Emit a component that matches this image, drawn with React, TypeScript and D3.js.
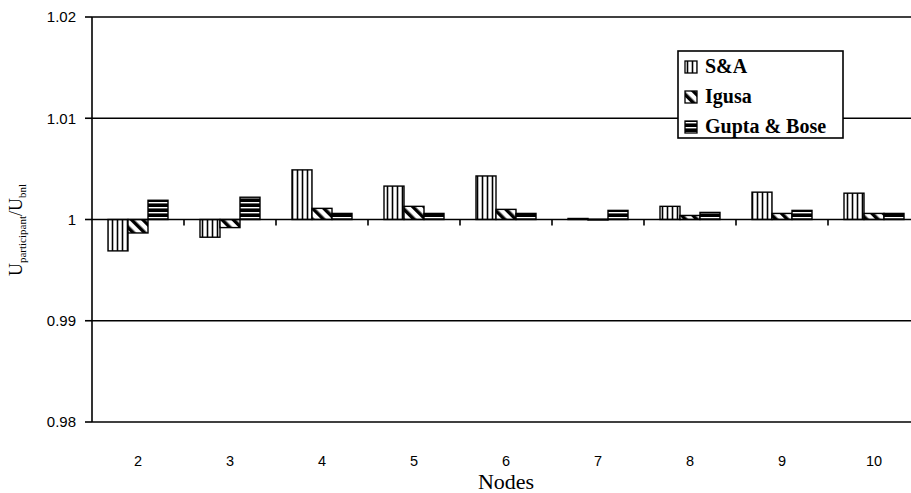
import React from "react";
import * as d3 from "d3";

const categories = ["2", "3", "4", "5", "6", "7", "8", "9", "10"];
const seriesNames = ["S&A", "Igusa", "Gupta & Bose"];
const saValues = [0.9969, 0.99825, 1.0049, 1.0033, 1.0043, 1.0001, 1.0013, 1.0027, 1.0026];
const igusaValues = [0.99867, 0.9992, 1.0011, 1.0013, 1.001, 1.00003, 1.0004, 1.0006, 1.0006];
const guptaValues = [1.0019, 1.0022, 1.0006, 1.0006, 1.0006, 1.0009, 1.0007, 1.0009, 1.0006];
const yTicks = [0.98, 0.99, 1, 1.01, 1.02];
const yTickLabels = ["0.98", "0.99", "1", "1.01", "1.02"];

const W = 911;
const H = 493;
const left = 92;
const top = 17;
const bottom = 422;
const catWidth = 92;

export default function App() {
  const x = d3.scaleBand<string>().domain(categories).range([left, left + catWidth * categories.length]).padding(0);
  const xs = d3.scaleBand<string>().domain(seriesNames).range([16, 76]).padding(0);
  const y = d3.scaleLinear().domain([0.98, 1.02]).range([bottom, top]);
  const base = y(1);
  const series = [saValues, igusaValues, guptaValues];
  const fills = ["url(#pSA)", "url(#pIg)", "url(#pGB)"];
  const sans = "'Liberation Sans', Arial, sans-serif";
  const serif = "'Liberation Serif', 'Times New Roman', serif";
  const plotRight = left + catWidth * categories.length;

  const legendRows = [67, 97, 127];

  return (
    <svg width={W} height={H} style={{ position: "absolute", left: 0, top: 0, background: "#fff" }}>
      <defs>
        <pattern id="pSA" patternUnits="userSpaceOnUse" width={5} height={10}>
          <rect width={5} height={10} fill="#fff" />
          <line x1={2.5} y1={0} x2={2.5} y2={10} stroke="#000" strokeWidth={1.6} />
        </pattern>
        <pattern id="pIg" patternUnits="userSpaceOnUse" width={8} height={8} patternTransform="rotate(-45)">
          <rect width={8} height={8} fill="#fff" />
          <rect x={0} y={0} width={3.5} height={8} fill="#000" />
        </pattern>
        <pattern id="pGB" patternUnits="userSpaceOnUse" width={10} height={5}>
          <rect width={10} height={5} fill="#000" />
          <rect x={0} y={2} width={10} height={1.4} fill="#fff" />
        </pattern>
      </defs>

      {/* gridlines */}
      {yTicks.filter((t) => t !== 1).map((t) => (
        <line key={t} x1={left} x2={plotRight} y1={y(t)} y2={y(t)} stroke="#000" strokeWidth={1.6} />
      ))}

      {/* bars */}
      {categories.map((c, i) => (
        <g key={c}>
          {series.map((s, j) => {
            const v = s[i];
            const yv = y(v);
            const y0 = Math.min(yv, base);
            const h = Math.max(Math.abs(yv - base), 0.8);
            return (
              <rect
                key={j}
                x={(x(c) as number) + (xs(seriesNames[j]) as number)}
                y={y0}
                width={xs.bandwidth()}
                height={h}
                fill={fills[j]}
                stroke="#000"
                strokeWidth={1.4}
              />
            );
          })}
        </g>
      ))}

      {/* x axis at 1 */}
      <line x1={left} x2={plotRight} y1={base} y2={base} stroke="#000" strokeWidth={1.6} />
      {categories.slice(1).map((c) => (
        <line key={c} x1={x(c) as number} x2={x(c) as number} y1={base} y2={base + 6} stroke="#000" strokeWidth={1.6} />
      ))}
      <line x1={plotRight} x2={plotRight} y1={base} y2={base + 6} stroke="#000" strokeWidth={1.6} />

      {/* y axis */}
      <line x1={left} x2={left} y1={top} y2={bottom} stroke="#000" strokeWidth={1.6} />
      {yTicks.map((t, i) => (
        <g key={t}>
          <line x1={left - 7} x2={left} y1={y(t)} y2={y(t)} stroke="#000" strokeWidth={1.6} />
          <text x={76} y={y(t)} dy="0.36em" textAnchor="end" fontFamily={sans} fontSize={15} fill="#000">
            {yTickLabels[i]}
          </text>
        </g>
      ))}

      {/* category labels */}
      {categories.map((c) => (
        <text key={c} x={(x(c) as number) + x.bandwidth() / 2} y={461} dy="0.36em" textAnchor="middle" fontFamily={sans} fontSize={14.5} fill="#000">
          {c}
        </text>
      ))}

      <text x={(left + plotRight) / 2} y={489} textAnchor="middle" fontFamily={serif} fontSize={22} fill="#000">
        Nodes
      </text>

      <text transform="translate(22,230) rotate(-90)" textAnchor="middle" fontFamily={serif} fontSize={18} fill="#000">
        U<tspan fontSize={11} dy={4}>participant</tspan>
        <tspan dy={-4}>/U</tspan>
        <tspan fontSize={11} dy={4}>bnl</tspan>
      </text>

      {/* legend */}
      <rect x={678} y={51} width={165} height={87} fill="#fff" stroke="#000" strokeWidth={1.6} />
      {seriesNames.map((n, j) => (
        <g key={n}>
          <rect x={685} y={legendRows[j] - 6} width={12} height={12} fill={fills[j]} stroke="#000" strokeWidth={1.3} />
          <text x={705} y={legendRows[j] + 6} fontFamily={serif} fontWeight="bold" fontSize={20} fill="#000">
            {n}
          </text>
        </g>
      ))}
    </svg>
  );
}
